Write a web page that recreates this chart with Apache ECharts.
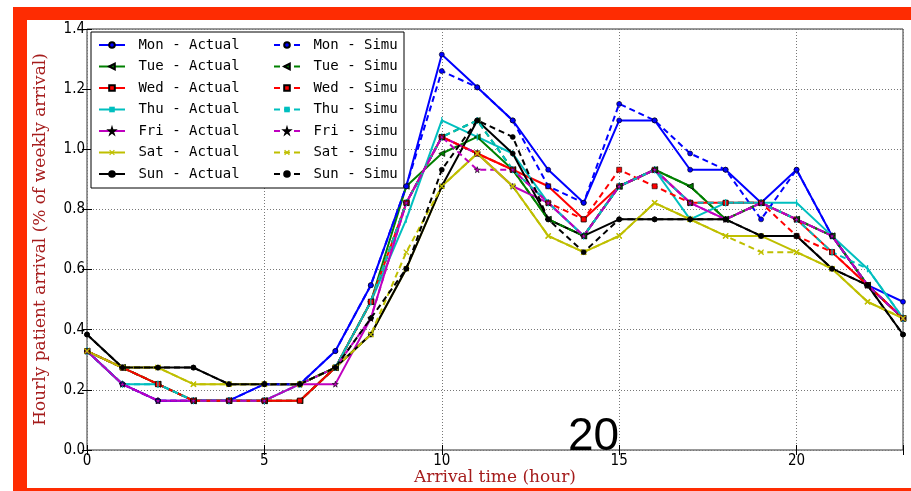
<!DOCTYPE html>
<html>
<head>
<meta charset="utf-8">
<script src="https://cdn.jsdelivr.net/npm/echarts@6/dist/echarts.min.js"></script>
<style>
html,body{margin:0;padding:0;background:#fff;}
#chart{width:911px;height:491px;}
</style>
</head>
<body>
<div id="chart"></div>
<script>
// ---- data ----
const hours = [0,1,2,3,4,5,6,7,8,9,10,11,12,13,14,15,16,17,18,19,20,21,22,23];
const xTicks = [0,5,10,15,20];
const yTicks = [0.0,0.2,0.4,0.6,0.8,1.0,1.2,1.4];

const monActual = [0.329,0.219,0.164,0.164,0.164,0.219,0.219,0.329,0.548,0.877,1.315,1.206,1.096,0.932,0.822,1.096,1.096,0.932,0.932,0.822,0.932,0.712,0.548,0.493];
const tueActual = [0.329,0.274,0.219,0.164,0.164,0.164,0.164,0.274,0.493,0.877,0.986,1.041,0.932,0.767,0.712,0.877,0.932,0.877,0.767,0.822,0.767,0.712,0.548,0.438];
const wedActual = [0.329,0.274,0.219,0.164,0.164,0.164,0.164,0.274,0.493,0.822,1.041,0.986,0.932,0.877,0.767,0.877,0.932,0.822,0.822,0.822,0.767,0.658,0.548,0.438];
const thuActual = [0.329,0.219,0.219,0.164,0.164,0.164,0.219,0.274,0.493,0.767,1.096,1.041,0.986,0.822,0.712,0.877,0.932,0.767,0.822,0.822,0.822,0.712,0.603,0.438];
const friActual = [0.329,0.219,0.164,0.164,0.164,0.164,0.219,0.219,0.438,0.822,1.041,0.986,0.877,0.822,0.712,0.877,0.932,0.822,0.767,0.822,0.767,0.712,0.548,0.438];
const satActual = [0.329,0.274,0.274,0.219,0.219,0.219,0.219,0.274,0.384,0.603,0.877,0.986,0.877,0.712,0.658,0.712,0.822,0.767,0.712,0.712,0.658,0.603,0.493,0.438];
const sunActual = [0.384,0.274,0.274,0.274,0.219,0.219,0.219,0.274,0.384,0.603,0.877,1.096,0.986,0.767,0.712,0.767,0.767,0.767,0.767,0.712,0.712,0.603,0.548,0.384];

const monSimu = [0.329,0.219,0.164,0.164,0.164,0.219,0.219,0.329,0.548,0.877,1.260,1.206,1.096,0.877,0.822,1.151,1.096,0.986,0.932,0.767,0.932,0.712,0.548,0.438];
const tueSimu = [0.329,0.274,0.219,0.164,0.164,0.164,0.164,0.274,0.493,0.822,1.041,1.096,0.932,0.767,0.712,0.877,0.932,0.877,0.767,0.822,0.767,0.712,0.548,0.438];
const wedSimu = [0.329,0.274,0.219,0.164,0.164,0.164,0.164,0.274,0.493,0.822,1.041,0.986,0.932,0.822,0.767,0.932,0.877,0.822,0.822,0.822,0.712,0.658,0.548,0.438];
const thuSimu = [0.329,0.219,0.219,0.164,0.164,0.164,0.219,0.274,0.493,0.822,1.041,1.096,0.932,0.822,0.712,0.877,0.932,0.822,0.822,0.822,0.767,0.658,0.603,0.438];
const friSimu = [0.329,0.219,0.164,0.164,0.164,0.164,0.219,0.274,0.438,0.822,1.041,0.932,0.932,0.822,0.712,0.877,0.932,0.822,0.767,0.822,0.767,0.712,0.548,0.438];
const satSimu = [0.329,0.274,0.274,0.219,0.219,0.219,0.219,0.274,0.384,0.658,0.877,0.986,0.877,0.712,0.658,0.712,0.822,0.767,0.712,0.658,0.658,0.603,0.493,0.438];
const sunSimu = [0.384,0.274,0.274,0.274,0.219,0.219,0.219,0.274,0.438,0.603,0.932,1.096,1.041,0.767,0.658,0.767,0.767,0.767,0.767,0.712,0.712,0.603,0.548,0.384];

const days = ['Mon','Tue','Wed','Thu','Fri','Sat','Sun'];
const actualData = [monActual,tueActual,wedActual,thuActual,friActual,satActual,sunActual];
const simuData = [monSimu,tueSimu,wedSimu,thuSimu,friSimu,satSimu,sunSimu];

// ---- styles ----
const colors = ['#0000ff','#008000','#ff0000','#00bfbf','#bf00bf','#bfbf00','#000000'];
const STAR = 'path://M50,0 L61,35 L98,35 L68,57 L79,91 L50,70 L21,91 L32,57 L2,35 L39,35 Z';
const CROSS = 'path://M0,1.5 L1.5,0 L10,8.5 L8.5,10 Z M8.5,0 L10,1.5 L1.5,10 L0,8.5 Z';
const markers = [
  {symbol:'circle', size:5, rotate:0, edge:true},
  {symbol:'triangle', size:6, rotate:90, edge:true},
  {symbol:'rect', size:5, rotate:0, edge:true},
  {symbol:'rect', size:[1.2,7], rotate:0, edge:false},
  {symbol:STAR, size:6, rotate:0, edge:true},
  {symbol:CROSS, size:6, rotate:0, edge:false},
  {symbol:'circle', size:5, rotate:0, edge:true}
];

const series = [];
function addSeries(name, arr, i, dashed){
  const m = markers[i];
  series.push({
    name: name,
    type: 'line',
    xAxisIndex: 0, yAxisIndex: 0,
    data: hours.map((h, k) => [h, arr[k]]),
    symbol: m.symbol,
    symbolSize: m.size,
    symbolRotate: m.rotate,
    showAllSymbol: true,
    animation: false,
    lineStyle: {color: colors[i], width: 2, type: dashed ? [6,4] : 'solid'},
    itemStyle: {color: colors[i], borderColor: m.edge ? '#000' : colors[i], borderWidth: m.edge ? 0.6 : 0},
    emphasis: {disabled: true}
  });
}
days.forEach((d, i) => addSeries(d + ' - Actual', actualData[i], i, false));
days.forEach((d, i) => addSeries(d + ' - Simu', simuData[i], i, true));

const tickFont = {fontFamily: 'DejaVu Sans Condensed, DejaVu Sans, sans-serif', fontSize: 15, color: '#000'};
const nameFont = {fontFamily: 'DejaVu Serif, serif', fontSize: 17, color: '#a51c1c'};
const legendText = {fontFamily: 'DejaVu Sans Mono, monospace', fontSize: 14, color: '#000'};
const red = '#fe2c02';

const chart = echarts.init(document.getElementById('chart'), null, {renderer: 'canvas'});
chart.setOption({
  animation: false,
  backgroundColor: '#fff',
  grid: {left: 87, top: 29, width: 816, height: 421, show: true, borderColor: '#333', borderWidth: 1,
         backgroundColor: 'transparent', containLabel: false, outerBoundsMode: 'none'},
  xAxis: [
    {type: 'value', min: 0, max: 23, interval: 5, position: 'bottom',
     name: 'Arrival time (hour)', nameLocation: 'middle', nameGap: 19, nameMoveOverlap: false, nameTextStyle: nameFont,
     axisLine: {show: false},
     axisTick: {show: true, inside: true, length: 5, lineStyle: {color: '#000'}},
     axisLabel: Object.assign({margin: 4, formatter: v => xTicks.includes(v) ? String(v) : ''}, tickFont),
     splitLine: {show: true, lineStyle: {color: '#777', type: [1,2], width: 1}}},
    {type: 'value', min: 0, max: 23, interval: 5, position: 'top',
     axisLine: {show: false},
     axisTick: {show: true, inside: true, length: 5, lineStyle: {color: '#000'}},
     axisLabel: {show: false}, splitLine: {show: false}}
  ],
  yAxis: [
    {type: 'value', min: 0, max: 1.4, interval: 0.2, position: 'left',
     name: 'Hourly patient arrival (% of weekly arrival)', nameLocation: 'middle', nameGap: 38, nameMoveOverlap: false, nameTextStyle: nameFont,
     axisLine: {show: false},
     axisTick: {show: true, inside: true, length: 5, lineStyle: {color: '#000'}},
     axisLabel: Object.assign({margin: 2, formatter: v => v.toFixed(1)}, tickFont),
     splitLine: {show: true, lineStyle: {color: '#777', type: [1,2], width: 1}}},
    {type: 'value', min: 0, max: 1.4, interval: 0.2, position: 'right',
     axisLine: {show: false},
     axisTick: {show: true, inside: true, length: 5, lineStyle: {color: '#000'}},
     axisLabel: {show: false}, splitLine: {show: false}}
  ],
  legend: [
    {data: days.map(d => d + ' - Actual'), orient: 'vertical', left: 98, top: 38,
     itemWidth: 26, itemHeight: 7, itemGap: 7.5, padding: 0, textStyle: legendText,
     formatter: n => ' ' + n, selectedMode: false},
    {data: days.map(d => d + ' - Simu'), orient: 'vertical', left: 273, top: 38,
     itemWidth: 26, itemHeight: 7, itemGap: 7.5, padding: 0, textStyle: legendText,
     formatter: n => ' ' + n, selectedMode: false}
  ],
  graphic: [
    {type: 'rect', z: 3, shape: {x: 91, y: 32, width: 313, height: 156}, style: {fill: '#fff', stroke: '#000', lineWidth: 1}},
    {type: 'rect', z: 10, shape: {x: 13, y: 7, width: 898, height: 13}, style: {fill: red}},
    {type: 'rect', z: 10, shape: {x: 13, y: 7, width: 14, height: 484}, style: {fill: red}},
    {type: 'rect', z: 10, shape: {x: 13, y: 488, width: 898, height: 3}, style: {fill: red}},
    {type: 'text', z: 10, left: 568, top: 414, style: {text: '20', fontSize: 46, fontFamily: 'Liberation Sans, Arial, sans-serif', fill: '#000'}}
  ],
  series: series
});
</script>
</body>
</html>
